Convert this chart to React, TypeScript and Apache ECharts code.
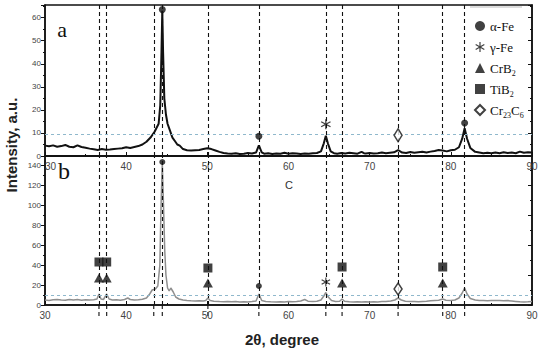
import React, { useEffect, useRef } from "react";
import * as echarts from "echarts";

// ---- Data ----
const anglesA = [30,30.5,31,31.5,32,32.5,33,33.5,34,34.5,35,35.5,36,36.5,37,37.5,38,38.5,39,39.5,40,40.5,41,41.5,42,42.5,43,43.5,44,44.2,44.35,44.45,44.55,44.7,44.9,45.1,45.4,45.7,46,46.3,46.6,47,47.5,48,48.5,49,49.5,50,50.5,51,51.5,52,52.5,53,53.5,54,54.5,55,55.5,56,56.35,56.7,57,57.5,58,58.5,59,59.5,60,60.5,61,61.5,62,62.5,63,63.5,64,64.35,64.6,64.85,65.2,65.6,66,66.5,67,67.5,68,68.5,69,69.3,69.5,70,70.5,71,71.5,72,72.5,73,73.5,74,74.5,75,75.5,76,76.5,77,77.5,78,78.5,79,79.5,80,80.5,81,81.4,81.7,82,82.4,83,83.5,84,84.5,85,85.5,86,86.5,87,87.5,88,88.5,89,89.5,90];
const intensityA = [4.5,4.2,4.6,4.0,4.3,4.8,4.0,3.8,4.6,3.9,3.6,3.2,2.9,2.6,3.0,2.7,2.8,3.0,3.2,3.4,3.8,3.5,3.9,4.3,5.0,6.2,8.0,10.5,14,22,45,63,45,25,18,14,11,8,6.5,5,4.5,3,2.5,2.4,2.5,2.6,3.0,3.4,3.0,2.4,1.8,1.3,1.1,1.0,1.2,0.9,1.0,1.3,1.1,1.5,4.6,1.6,1.0,1.2,0.9,1.1,1.0,1.4,1.0,1.2,1.1,0.9,1.1,1.0,1.2,1.3,2.0,5.5,8.8,5.5,2.0,1.2,1.0,1.3,1.1,1.4,1.2,1.0,1.8,1.2,1.1,1.3,1.1,1.2,1.5,1.2,1.4,1.6,2.6,1.5,1.3,1.7,1.4,1.6,1.8,1.5,1.9,2.2,2.6,2.4,2.0,2.5,2.7,3.8,7.5,12,7.5,3.5,1.8,1.5,1.2,1.4,1.2,1.5,1.2,1.6,1.3,1.5,1.2,1.9,1.4,1.6,1.5];

const anglesB = [30,30.5,31,31.5,32,32.5,33,33.5,34,34.5,35,35.5,36,36.4,36.65,36.9,37.2,37.6,37.9,38.3,38.8,39.3,39.8,40.2,40.5,41,41.5,42,42.5,42.9,43.2,43.6,43.9,44.15,44.3,44.45,44.6,44.75,44.9,45.1,45.3,45.5,45.8,46.1,46.5,47,47.5,48,48.5,49,49.5,49.8,50.07,50.35,50.8,51.5,52,52.5,53,53.5,54,54.5,55,55.5,56,56.35,56.7,57.2,57.8,58.5,59,59.5,60,60.5,61,61.5,62,62.4,63,63.5,64,64.35,64.6,64.9,65.3,65.8,66.3,66.6,66.9,67.5,68,68.5,69,69.5,70,70.5,71,71.5,72,72.6,73.1,73.5,73.9,74.4,75,75.5,76,76.5,77,77.5,78,78.5,79,79.4,80,80.5,81,81.4,81.7,82,82.4,83,83.5,84,84.5,85,85.5,86,86.5,87,87.5,88,88.5,89,89.5,90];
const intensityB = [5,4.5,5.2,5.5,5.0,4.8,5.6,5.0,5.4,4.8,5.2,5.0,5.3,6,11,6,5.5,11,6,5,5.2,4.8,5.5,7,5.5,5.0,5.2,5.8,7,11,15,16,19,40,100,142,100,55,30,17,14,17,13,8,6,5,4.5,4.2,4.0,4.2,4.0,4.5,7,4.5,3.8,3.5,3.3,3.5,3.2,3.4,3.0,3.3,3.1,3.4,4,11,4.5,3.5,3.2,3.0,3.3,3.0,3.4,3.2,3.5,4.0,5.5,3.8,3.5,3.8,5,9,12.5,8,4.5,3.5,3.8,6,3.8,3.2,3.0,3.3,3.0,3.2,3.0,3.3,3.1,3.4,3.5,4.0,5.0,7,5,3.8,3.5,3.4,3.2,3.5,3.8,4.2,4.5,4.8,6,4.8,4.5,5,7,12,17,11,6.5,5,4.5,4.5,4.3,4.6,4.4,4.5,4.2,4.4,4.0,3.6,3.2,3.0,3.2,3.5];

const peakAngles = [36.65, 37.6, 43.4, 44.45, 50.07, 56.35, 64.6, 66.6, 73.5, 79.0, 81.7];
const xTicks = [30, 40, 50, 60, 70, 80, 90];

// marker positions [2θ, intensity]
const alphaFeA = [[44.45, 63.5], [56.35, 8.6], [81.7, 14.3]];
const gammaFeA = [[64.6, 13.8]];
const cr23c6A = [[73.5, 9]];
const alphaFeB = [[44.45, 143], [56.35, 19]];
const gammaFeB = [[64.6, 23]];
const crB2B = [[36.65, 27], [37.6, 27], [50.07, 22], [66.6, 22], [79.0, 22]];
const tiB2B = [[36.65, 43], [37.6, 43], [50.07, 37], [66.6, 38], [79.0, 38]];
const cr23c6B = [[73.5, 16]];

const phaseNames = ["α-Fe", "γ-Fe", "CrB2", "TiB2", "Cr23C6"];
const phaseLabels: Record<string, string> = {
  "α-Fe": "α-Fe",
  "γ-Fe": "γ-Fe",
  CrB2: "CrB{s|2}",
  TiB2: "TiB{s|2}",
  Cr23C6: "Cr{s|23}C{s|6}",
};

const ASTERISK =
  "path://M-1.2 -10L1.2 -10L1.2 10L-1.2 10ZM8.06 -6.04L9.26 -3.96L-8.06 6.04L-9.26 3.96ZM-9.26 -3.96L-8.06 -6.04L9.26 3.96L8.06 6.04Z";

const zip = (xs: number[], ys: number[]) => xs.map((x, i) => [x, ys[i]]);

export default function App() {
  const ref = useRef<HTMLDivElement>(null);
  useEffect(() => {
    document.body.style.margin = "0";
    const chart = echarts.init(ref.current!, null, { renderer: "svg" });
    const sans = "'Liberation Sans', Arial, sans-serif";
    const serif = "'Liberation Serif', 'Times New Roman', serif";

    const xAxisBase = (gridIndex: number) => ({
      type: "value",
      gridIndex,
      min: 30,
      max: 90,
      interval: 10,
      axisLine: { show: true, lineStyle: { color: "#111", width: 1.5 } },
      axisTick: { show: true, inside: true, length: 4, lineStyle: { color: "#111" } },
      minorTick: { show: true, splitNumber: 2, length: 2, lineStyle: { color: "#111" } },
      splitLine: { show: false },
      axisLabel: {
        fontSize: 10,
        color: "#444",
        margin: 5,
        fontFamily: sans,
        alignMinLabel: gridIndex === 0 ? "left" : "center",
        formatter: (v: number) => (xTicks.includes(v) ? String(v) : ""),
      },
    });
    const yAxisBase = (gridIndex: number, max: number, interval: number) => ({
      type: "value",
      gridIndex,
      min: 0,
      max,
      interval,
      axisLine: { show: true, lineStyle: { color: "#111", width: 1.5 } },
      axisTick: { show: true, inside: false, length: 4, lineStyle: { color: "#111" } },
      minorTick: { show: true, splitNumber: 2, length: 2, lineStyle: { color: "#111" } },
      splitLine: { show: false },
      axisLabel: { fontSize: 8, color: "#444", margin: 4, fontFamily: sans, showMaxLabel: false },
    });
    const yRight = (gridIndex: number, max: number, interval: number) => ({
      type: "value",
      gridIndex,
      position: "right",
      min: 0,
      max,
      interval,
      axisLine: { show: true, lineStyle: { color: "#111", width: 1.5 } },
      axisTick: { show: true, inside: true, length: 4, lineStyle: { color: "#111" } },
      minorTick: { show: true, splitNumber: 2, length: 2, lineStyle: { color: "#111" } },
      splitLine: { show: false },
      axisLabel: { show: false },
    });

    const vLines = peakAngles.map((v) => ({ xAxis: v }));
    const markLineFor = (level: number) => ({
      silent: true,
      symbol: ["none", "none"],
      label: { show: false },
      lineStyle: { color: "#111", type: [4, 3], width: 1.1 },
      data: [
        ...vLines,
        { yAxis: level, lineStyle: { color: "#8fb8cc", type: [3, 3], width: 1 } },
      ],
    });

    const scatter = (
      name: string,
      data: number[][],
      grid: number,
      symbol: string,
      size: number | number[],
      hollow = false
    ) => ({
      type: "scatter",
      name,
      xAxisIndex: grid,
      yAxisIndex: grid,
      data,
      symbol,
      symbolSize: size,
      z: 5,
      itemStyle: hollow
        ? { color: "#fff", borderColor: "#111", borderWidth: 1.5 }
        : { color: "#111" },
    });

    chart.setOption({
      animation: false,
      grid: [
        { left: 45, right: 18, top: 5, height: 151, show: true, borderColor: "#111", borderWidth: 1.5, backgroundColor: "transparent" },
        { left: 45, right: 18, top: 156, height: 149, show: true, borderColor: "#111", borderWidth: 1.5, backgroundColor: "transparent" },
      ],
      xAxis: [xAxisBase(0), xAxisBase(1)],
      yAxis: [
        yAxisBase(0, 65.5, 10),
        yAxisBase(1, 149, 20),
        yRight(0, 65.5, 10),
        yRight(1, 149, 30),
      ],
      legend: {
        orient: "vertical",
        left: 474,
        top: 17,
        itemWidth: 10,
        itemHeight: 10,
        itemGap: 3,
        padding: 0,
        data: [
          { name: "α-Fe" },
          { name: "γ-Fe" },
          { name: "CrB2" },
          { name: "TiB2", itemStyle: { color: "#111" } },
          { name: "Cr23C6" },
        ],
        textStyle: {
          fontFamily: serif,
          fontSize: 13,
          color: "#111",
          lineHeight: 18,
          rich: { s: { fontSize: 8, lineHeight: 9, verticalAlign: "bottom", fontFamily: serif, color: "#111" } },
        },
        formatter: (n: string) => phaseLabels[n],
      },
      series: [
        {
          type: "line",
          name: "a",
          xAxisIndex: 0,
          yAxisIndex: 0,
          data: zip(anglesA, intensityA),
          showSymbol: false,
          lineStyle: { color: "#111", width: 2 },
          markLine: markLineFor(9.5),
          z: 3,
        },
        {
          type: "line",
          name: "b",
          xAxisIndex: 1,
          yAxisIndex: 1,
          data: zip(anglesB, intensityB),
          showSymbol: false,
          lineStyle: { color: "#8f8f8f", width: 1.5 },
          markLine: markLineFor(10),
          z: 3,
        },
        scatter("α-Fe", alphaFeA, 0, "circle", 7),
        scatter("α-Fe", alphaFeB, 1, "circle", 6),
        scatter("γ-Fe", gammaFeA, 0, ASTERISK, 10),
        scatter("γ-Fe", gammaFeB, 1, ASTERISK, 9),
        scatter("CrB2", crB2B, 1, "triangle", [10, 9]),
        scatter("TiB2", tiB2B, 1, "rect", 9),
        scatter("Cr23C6", cr23c6A, 0, "diamond", [8, 13], true),
        scatter("Cr23C6", cr23c6B, 1, "diamond", [8, 12], true),
      ],
    });

    // short dashed extensions of the peak lines below the lower axis
    const bottomY = chart.convertToPixel({ yAxisIndex: 1 }, 0) as number;
    const extensions = peakAngles.map((v) => {
      const px = chart.convertToPixel({ xAxisIndex: 1 }, v) as number;
      return {
        type: "line",
        shape: { x1: px, y1: bottomY, x2: px, y2: bottomY + 12 },
        style: { stroke: "#111", lineWidth: 1.1, lineDash: [4, 3] },
        silent: true,
      };
    });

    chart.setOption({
      graphic: [
        ...extensions,
        { type: "text", x: 11, y: 145, rotation: Math.PI / 2, style: { text: "Intensity, a.u.", font: `bold 15px ${sans}`, fill: "#222", align: "center", verticalAlign: "middle" } },
        { type: "text", x: 282, y: 339, style: { text: "2θ, degree", font: `bold 15px ${sans}`, fill: "#222", align: "center", verticalAlign: "middle" } },
        { type: "text", x: 62, y: 29, style: { text: "a", font: `22px ${serif}`, fill: "#111", align: "center", verticalAlign: "middle" } },
        { type: "text", x: 64, y: 171, style: { text: "b", font: `24px ${serif}`, fill: "#111", align: "center", verticalAlign: "middle" } },
        { type: "text", x: 289, y: 185, style: { text: "C", font: `11px ${sans}`, fill: "#333", align: "center", verticalAlign: "middle" } },
        { type: "line", shape: { x1: 470, y1: 7, x2: 522, y2: 7 }, style: { stroke: "#bbb", lineWidth: 1 } },
      ],
    });
    return () => chart.dispose();
  }, []);
  return <div ref={ref} style={{ width: 550, height: 352 }} />;
}
